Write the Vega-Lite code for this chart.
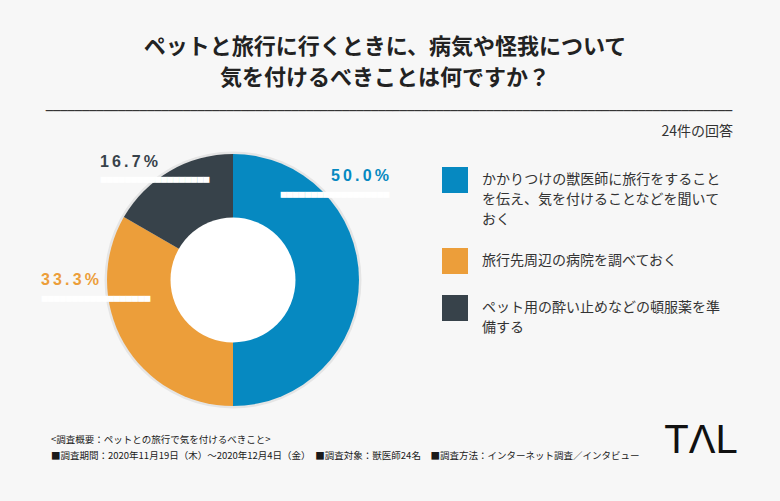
{
  "$schema": "https://vega.github.io/schema/vega-lite/v6.json",
  "width": 466,
  "height": 442,
  "autosize": {"type": "none"},
  "padding": {"left": 0, "top": 59, "right": 314, "bottom": 0},
  "background": "#f7f7f7",
  "config": {
    "view": {"stroke": null},
    "style": {"guide-label": {"lineHeight": 20}}
  },
  "datasets": {
    "answers": [
      {"answer": "かかりつけの獣医師に旅行をすることを伝え、気を付けることなどを聞いておく", "count": 12, "share": "50.0%", "rank": 1},
      {"answer": "旅行先周辺の病院を調べておく", "count": 8, "share": "33.3%", "rank": 2},
      {"answer": "ペット用の酔い止めなどの頓服薬を準備する", "count": 4, "share": "16.7%", "rank": 3}
    ],
    "whole": [{"part": 1}]
  },
  "resolve": {"scale": {"theta": "independent"}},
  "layer": [
    {
      "data": {"name": "whole"},
      "mark": {"type": "arc", "outerRadius": 128.5, "fill": "#000000", "opacity": 0.07},
      "encoding": {"theta": {"field": "part", "type": "quantitative"}}
    },
    {
      "data": {"name": "answers"},
      "mark": {"type": "arc", "outerRadius": 126},
      "encoding": {
        "theta": {"field": "count", "type": "quantitative", "stack": true},
        "order": {"field": "rank", "type": "quantitative"},
        "color": {
          "field": "answer",
          "type": "nominal",
          "scale": {
            "domain": [
              "かかりつけの獣医師に旅行をすることを伝え、気を付けることなどを聞いておく",
              "旅行先周辺の病院を調べておく",
              "ペット用の酔い止めなどの頓服薬を準備する"
            ],
            "range": ["#0689c1", "#ec9e3a", "#37424a"]
          },
          "legend": {
            "orient": "none",
            "legendX": 442,
            "legendY": 108,
            "title": null,
            "symbolType": "square",
            "symbolSize": 676,
            "symbolStrokeWidth": 0,
            "symbolOpacity": 1,
            "labelFont": "Noto Sans CJK JP",
            "labelFontSize": 14,
            "labelColor": "#333333",
            "labelLimit": 400,
            "labelOffset": 14,
            "labelBaseline": "middle",
            "rowPadding": 21,
            "labelExpr": "length(datum.label) > 34 ? [substring(datum.label, 0, 17), substring(datum.label, 17, 34), substring(datum.label, 34)] : (length(datum.label) > 17 ? [substring(datum.label, 0, 17), substring(datum.label, 17)] : datum.label)"
          }
        }
      }
    },
    {
      "data": {"name": "whole"},
      "mark": {"type": "arc", "outerRadius": 62.5, "fill": "#ffffff"},
      "encoding": {"theta": {"field": "part", "type": "quantitative"}}
    },
    {
      "data": {"name": "answers"},
      "transform": [{"filter": "datum.rank == 1"}],
      "mark": {"type": "text", "text": "▀▀▀▀▀▀▀▀▀▀▀▀▀▀▀▀▀▀", "font": "DejaVu Sans Mono", "fontSize": 10, "fill": "#ffffff", "dx": 102, "dy": -82, "baseline": "middle"},
      "encoding": {}
    },
    {
      "data": {"name": "answers"},
      "transform": [{"filter": "datum.rank == 2"}],
      "mark": {"type": "text", "text": "▀▀▀▀▀▀▀▀▀▀▀▀▀▀▀▀▀▀", "font": "DejaVu Sans Mono", "fontSize": 10, "fill": "#ffffff", "dx": -137, "dy": 21.5, "baseline": "middle"},
      "encoding": {}
    },
    {
      "data": {"name": "answers"},
      "transform": [{"filter": "datum.rank == 3"}],
      "mark": {"type": "text", "text": "▀▀▀▀▀▀▀▀▀▀▀▀▀▀▀▀▀▀", "font": "DejaVu Sans Mono", "fontSize": 10, "fill": "#ffffff", "dx": -78, "dy": -97, "baseline": "middle"},
      "encoding": {}
    },
    {
      "data": {"name": "answers"},
      "transform": [{"filter": "datum.rank == 1"}, {"calculate": "join(split(datum.share, ''), '\u2009')", "as": "spaced"}],
      "mark": {"type": "text", "font": "Liberation Sans", "fontWeight": "bold", "fontSize": 16, "dx": 127, "dy": -104, "baseline": "middle"},
      "encoding": {"text": {"field": "spaced"}, "color": {"field": "answer", "type": "nominal"}}
    },
    {
      "data": {"name": "answers"},
      "transform": [{"filter": "datum.rank == 2"}, {"calculate": "join(split(datum.share, ''), '\u2009')", "as": "spaced"}],
      "mark": {"type": "text", "font": "Liberation Sans", "fontWeight": "bold", "fontSize": 16, "dx": -163, "dy": 0, "baseline": "middle"},
      "encoding": {"text": {"field": "spaced"}, "color": {"field": "answer", "type": "nominal"}}
    },
    {
      "data": {"name": "answers"},
      "transform": [{"filter": "datum.rank == 3"}, {"calculate": "join(split(datum.share, ''), '\u2009')", "as": "spaced"}],
      "mark": {"type": "text", "font": "Liberation Sans", "fontWeight": "bold", "fontSize": 16, "dx": -104, "dy": -118, "baseline": "middle"},
      "encoding": {"text": {"field": "spaced"}, "color": {"field": "answer", "type": "nominal"}}
    },
    {
      "data": {"values": [{"note": "ペットと旅行に行くときに、病気や怪我について"}]},
      "mark": {"type": "text", "font": "Noto Sans CJK JP", "fontWeight": "bold", "fontSize": 22, "color": "#222222", "dx": 152, "dy": -233, "baseline": "middle"},
      "encoding": {"text": {"field": "note"}}
    },
    {
      "data": {"values": [{"note": "気を付けるべきことは何ですか？"}]},
      "mark": {"type": "text", "font": "Noto Sans CJK JP", "fontWeight": "bold", "fontSize": 22, "color": "#222222", "dx": 152, "dy": -202.5, "baseline": "middle"},
      "encoding": {"text": {"field": "note"}}
    },
    {
      "data": {"values": [{"note": "───────────────────────────────────────────────────────────────────────────────────────────────"}]},
      "mark": {"type": "text", "font": "DejaVu Sans Mono", "fontSize": 12, "color": "#1a1a1a", "dx": 156, "dy": -169, "baseline": "middle"},
      "encoding": {"text": {"field": "note"}}
    },
    {
      "data": {"values": [{"note": "24件の回答"}]},
      "mark": {"type": "text", "font": "Noto Sans CJK JP", "fontSize": 14, "color": "#333333", "align": "right", "dx": 500, "dy": -148, "baseline": "middle"},
      "encoding": {"text": {"field": "note"}}
    },
    {
      "data": {"values": [{"note": "<調査概要：ペットとの旅行で気を付けるべきこと>"}]},
      "mark": {"type": "text", "font": "Noto Sans CJK JP", "fontSize": 9.5, "color": "#1a1a1a", "align": "left", "dx": -182, "dy": 160, "baseline": "middle"},
      "encoding": {"text": {"field": "note"}}
    },
    {
      "data": {"values": [{"note": "■調査期間：2020年11月19日（木）～2020年12月4日（金）　■調査対象：獣医師24名　■調査方法：インターネット調査／インタビュー"}]},
      "mark": {"type": "text", "font": "Noto Sans CJK JP", "fontSize": 9.5, "color": "#1a1a1a", "align": "left", "dx": -182, "dy": 176, "baseline": "middle"},
      "encoding": {"text": {"field": "note"}}
    },
    {
      "data": {"values": [{"note": "TΛL"}]},
      "mark": {"type": "text", "font": "Liberation Sans", "fontSize": 40, "color": "#111111", "dx": 468, "dy": 161, "baseline": "middle"},
      "encoding": {"text": {"field": "note"}}
    }
  ]
}
